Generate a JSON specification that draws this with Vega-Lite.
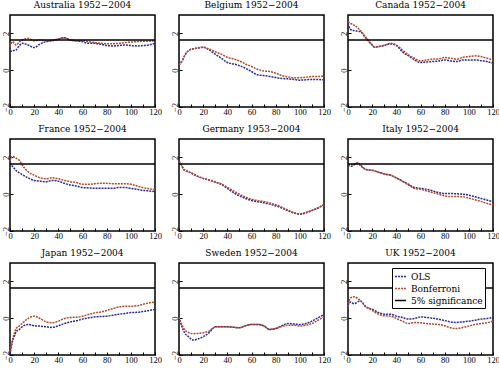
{
"$schema": "https://vega.github.io/schema/vega-lite/v6.json",
"padding": {"left": 0, "top": 0, "right": 1, "bottom": 1},
"config": {
  "font": "DejaVu Serif",
  "view": {"stroke": "black", "strokeWidth": 1.5},
  "axis": {"domain": false, "grid": false, "tickColor": "black", "tickSize": -3, "labelPadding": 3, "labelFont": "Liberation Serif", "labelFontSize": 8.5, "labelColor": "black", "title": null, "labelOverlap": false, "labelFlush": false, "minExtent": 0}
},
"data": {"values": [
{"c":"Australia 1952−2004","x":0,"OLS":1.0,"Bonferroni":1.28},{"c":"Australia 1952−2004","x":2,"OLS":1.05,"Bonferroni":1.55},{"c":"Australia 1952−2004","x":5,"OLS":1.1,"Bonferroni":1.37},{"c":"Australia 1952−2004","x":8,"OLS":1.35,"Bonferroni":1.55},{"c":"Australia 1952−2004","x":10,"OLS":1.46,"Bonferroni":1.64},{"c":"Australia 1952−2004","x":15,"OLS":1.37,"Bonferroni":1.73},{"c":"Australia 1952−2004","x":20,"OLS":1.23,"Bonferroni":1.6},{"c":"Australia 1952−2004","x":25,"OLS":1.43,"Bonferroni":1.64},{"c":"Australia 1952−2004","x":30,"OLS":1.55,"Bonferroni":1.6},{"c":"Australia 1952−2004","x":35,"OLS":1.6,"Bonferroni":1.64},{"c":"Australia 1952−2004","x":40,"OLS":1.68,"Bonferroni":1.7},{"c":"Australia 1952−2004","x":45,"OLS":1.77,"Bonferroni":1.75},{"c":"Australia 1952−2004","x":50,"OLS":1.64,"Bonferroni":1.64},{"c":"Australia 1952−2004","x":55,"OLS":1.6,"Bonferroni":1.6},{"c":"Australia 1952−2004","x":60,"OLS":1.55,"Bonferroni":1.6},{"c":"Australia 1952−2004","x":65,"OLS":1.46,"Bonferroni":1.55},{"c":"Australia 1952−2004","x":70,"OLS":1.46,"Bonferroni":1.5},{"c":"Australia 1952−2004","x":75,"OLS":1.41,"Bonferroni":1.46},{"c":"Australia 1952−2004","x":80,"OLS":1.34,"Bonferroni":1.44},{"c":"Australia 1952−2004","x":85,"OLS":1.32,"Bonferroni":1.44},{"c":"Australia 1952−2004","x":90,"OLS":1.34,"Bonferroni":1.46},{"c":"Australia 1952−2004","x":95,"OLS":1.37,"Bonferroni":1.5},{"c":"Australia 1952−2004","x":100,"OLS":1.34,"Bonferroni":1.53},{"c":"Australia 1952−2004","x":105,"OLS":1.32,"Bonferroni":1.55},{"c":"Australia 1952−2004","x":110,"OLS":1.34,"Bonferroni":1.57},{"c":"Australia 1952−2004","x":115,"OLS":1.37,"Bonferroni":1.58},{"c":"Australia 1952−2004","x":120,"OLS":1.46,"Bonferroni":1.6},
{"c":"Belgium 1952−2004","x":0,"OLS":0.29,"Bonferroni":0.29},{"c":"Belgium 1952−2004","x":3,"OLS":0.56,"Bonferroni":0.56},{"c":"Belgium 1952−2004","x":5,"OLS":0.83,"Bonferroni":0.83},{"c":"Belgium 1952−2004","x":10,"OLS":1.14,"Bonferroni":1.14},{"c":"Belgium 1952−2004","x":15,"OLS":1.19,"Bonferroni":1.19},{"c":"Belgium 1952−2004","x":20,"OLS":1.25,"Bonferroni":1.25},{"c":"Belgium 1952−2004","x":25,"OLS":1.1,"Bonferroni":1.14},{"c":"Belgium 1952−2004","x":30,"OLS":0.87,"Bonferroni":1.0},{"c":"Belgium 1952−2004","x":35,"OLS":0.65,"Bonferroni":0.87},{"c":"Belgium 1952−2004","x":40,"OLS":0.42,"Bonferroni":0.7},{"c":"Belgium 1952−2004","x":45,"OLS":0.34,"Bonferroni":0.61},{"c":"Belgium 1952−2004","x":50,"OLS":0.25,"Bonferroni":0.5},{"c":"Belgium 1952−2004","x":55,"OLS":0.11,"Bonferroni":0.34},{"c":"Belgium 1952−2004","x":60,"OLS":-0.07,"Bonferroni":0.2},{"c":"Belgium 1952−2004","x":65,"OLS":-0.25,"Bonferroni":0.05},{"c":"Belgium 1952−2004","x":70,"OLS":-0.29,"Bonferroni":-0.04},{"c":"Belgium 1952−2004","x":75,"OLS":-0.34,"Bonferroni":-0.07},{"c":"Belgium 1952−2004","x":80,"OLS":-0.4,"Bonferroni":-0.16},{"c":"Belgium 1952−2004","x":85,"OLS":-0.45,"Bonferroni":-0.29},{"c":"Belgium 1952−2004","x":90,"OLS":-0.47,"Bonferroni":-0.36},{"c":"Belgium 1952−2004","x":95,"OLS":-0.5,"Bonferroni":-0.41},{"c":"Belgium 1952−2004","x":100,"OLS":-0.54,"Bonferroni":-0.41},{"c":"Belgium 1952−2004","x":105,"OLS":-0.52,"Bonferroni":-0.38},{"c":"Belgium 1952−2004","x":110,"OLS":-0.5,"Bonferroni":-0.34},{"c":"Belgium 1952−2004","x":115,"OLS":-0.51,"Bonferroni":-0.34},{"c":"Belgium 1952−2004","x":120,"OLS":-0.52,"Bonferroni":-0.32},
{"c":"Canada 1952−2004","x":0,"OLS":2.55,"Bonferroni":2.64},{"c":"Canada 1952−2004","x":2,"OLS":2.22,"Bonferroni":2.55},{"c":"Canada 1952−2004","x":5,"OLS":2.15,"Bonferroni":2.45},{"c":"Canada 1952−2004","x":10,"OLS":2.1,"Bonferroni":2.18},{"c":"Canada 1952−2004","x":15,"OLS":1.73,"Bonferroni":1.77},{"c":"Canada 1952−2004","x":20,"OLS":1.37,"Bonferroni":1.37},{"c":"Canada 1952−2004","x":22,"OLS":1.25,"Bonferroni":1.25},{"c":"Canada 1952−2004","x":25,"OLS":1.28,"Bonferroni":1.28},{"c":"Canada 1952−2004","x":30,"OLS":1.34,"Bonferroni":1.36},{"c":"Canada 1952−2004","x":35,"OLS":1.43,"Bonferroni":1.46},{"c":"Canada 1952−2004","x":40,"OLS":1.34,"Bonferroni":1.37},{"c":"Canada 1952−2004","x":45,"OLS":1.0,"Bonferroni":1.1},{"c":"Canada 1952−2004","x":50,"OLS":0.79,"Bonferroni":0.83},{"c":"Canada 1952−2004","x":55,"OLS":0.56,"Bonferroni":0.65},{"c":"Canada 1952−2004","x":60,"OLS":0.42,"Bonferroni":0.5},{"c":"Canada 1952−2004","x":65,"OLS":0.45,"Bonferroni":0.56},{"c":"Canada 1952−2004","x":70,"OLS":0.47,"Bonferroni":0.6},{"c":"Canada 1952−2004","x":75,"OLS":0.5,"Bonferroni":0.61},{"c":"Canada 1952−2004","x":80,"OLS":0.56,"Bonferroni":0.69},{"c":"Canada 1952−2004","x":85,"OLS":0.5,"Bonferroni":0.65},{"c":"Canada 1952−2004","x":90,"OLS":0.47,"Bonferroni":0.6},{"c":"Canada 1952−2004","x":95,"OLS":0.56,"Bonferroni":0.7},{"c":"Canada 1952−2004","x":100,"OLS":0.56,"Bonferroni":0.74},{"c":"Canada 1952−2004","x":105,"OLS":0.56,"Bonferroni":0.78},{"c":"Canada 1952−2004","x":110,"OLS":0.52,"Bonferroni":0.74},{"c":"Canada 1952−2004","x":115,"OLS":0.47,"Bonferroni":0.65},{"c":"Canada 1952−2004","x":120,"OLS":0.38,"Bonferroni":0.56},
{"c":"France 1952−2004","x":0,"OLS":1.7,"Bonferroni":1.79},{"c":"France 1952−2004","x":2,"OLS":1.52,"Bonferroni":2.05},{"c":"France 1952−2004","x":5,"OLS":1.29,"Bonferroni":1.96},{"c":"France 1952−2004","x":8,"OLS":1.15,"Bonferroni":1.82},{"c":"France 1952−2004","x":10,"OLS":1.07,"Bonferroni":1.6},{"c":"France 1952−2004","x":15,"OLS":0.89,"Bonferroni":1.21},{"c":"France 1952−2004","x":20,"OLS":0.75,"Bonferroni":1.04},{"c":"France 1952−2004","x":25,"OLS":0.71,"Bonferroni":0.89},{"c":"France 1952−2004","x":30,"OLS":0.68,"Bonferroni":0.84},{"c":"France 1952−2004","x":35,"OLS":0.75,"Bonferroni":0.89},{"c":"France 1952−2004","x":40,"OLS":0.71,"Bonferroni":0.84},{"c":"France 1952−2004","x":45,"OLS":0.59,"Bonferroni":0.75},{"c":"France 1952−2004","x":50,"OLS":0.5,"Bonferroni":0.68},{"c":"France 1952−2004","x":55,"OLS":0.45,"Bonferroni":0.63},{"c":"France 1952−2004","x":60,"OLS":0.36,"Bonferroni":0.54},{"c":"France 1952−2004","x":65,"OLS":0.34,"Bonferroni":0.54},{"c":"France 1952−2004","x":70,"OLS":0.32,"Bonferroni":0.57},{"c":"France 1952−2004","x":75,"OLS":0.32,"Bonferroni":0.59},{"c":"France 1952−2004","x":80,"OLS":0.32,"Bonferroni":0.59},{"c":"France 1952−2004","x":85,"OLS":0.32,"Bonferroni":0.57},{"c":"France 1952−2004","x":90,"OLS":0.36,"Bonferroni":0.57},{"c":"France 1952−2004","x":95,"OLS":0.36,"Bonferroni":0.57},{"c":"France 1952−2004","x":100,"OLS":0.32,"Bonferroni":0.54},{"c":"France 1952−2004","x":105,"OLS":0.27,"Bonferroni":0.45},{"c":"France 1952−2004","x":110,"OLS":0.21,"Bonferroni":0.36},{"c":"France 1952−2004","x":115,"OLS":0.18,"Bonferroni":0.3},{"c":"France 1952−2004","x":120,"OLS":0.14,"Bonferroni":0.25},
{"c":"Germany 1953−2004","x":0,"OLS":1.79,"Bonferroni":1.79},{"c":"Germany 1953−2004","x":2,"OLS":1.6,"Bonferroni":1.6},{"c":"Germany 1953−2004","x":4,"OLS":1.34,"Bonferroni":1.34},{"c":"Germany 1953−2004","x":5,"OLS":1.3,"Bonferroni":1.3},{"c":"Germany 1953−2004","x":10,"OLS":1.16,"Bonferroni":1.16},{"c":"Germany 1953−2004","x":15,"OLS":0.98,"Bonferroni":0.98},{"c":"Germany 1953−2004","x":20,"OLS":0.86,"Bonferroni":0.86},{"c":"Germany 1953−2004","x":25,"OLS":0.77,"Bonferroni":0.77},{"c":"Germany 1953−2004","x":30,"OLS":0.66,"Bonferroni":0.66},{"c":"Germany 1953−2004","x":35,"OLS":0.54,"Bonferroni":0.56},{"c":"Germany 1953−2004","x":40,"OLS":0.32,"Bonferroni":0.37},{"c":"Germany 1953−2004","x":45,"OLS":0.09,"Bonferroni":0.18},{"c":"Germany 1953−2004","x":50,"OLS":-0.09,"Bonferroni":0.0},{"c":"Germany 1953−2004","x":55,"OLS":-0.23,"Bonferroni":-0.16},{"c":"Germany 1953−2004","x":60,"OLS":-0.34,"Bonferroni":-0.27},{"c":"Germany 1953−2004","x":65,"OLS":-0.41,"Bonferroni":-0.34},{"c":"Germany 1953−2004","x":70,"OLS":-0.46,"Bonferroni":-0.39},{"c":"Germany 1953−2004","x":75,"OLS":-0.54,"Bonferroni":-0.48},{"c":"Germany 1953−2004","x":80,"OLS":-0.63,"Bonferroni":-0.57},{"c":"Germany 1953−2004","x":85,"OLS":-0.75,"Bonferroni":-0.71},{"c":"Germany 1953−2004","x":90,"OLS":-0.89,"Bonferroni":-0.86},{"c":"Germany 1953−2004","x":95,"OLS":-1.02,"Bonferroni":-1.0},{"c":"Germany 1953−2004","x":100,"OLS":-1.09,"Bonferroni":-1.07},{"c":"Germany 1953−2004","x":105,"OLS":-1.02,"Bonferroni":-0.99},{"c":"Germany 1953−2004","x":110,"OLS":-0.89,"Bonferroni":-0.88},{"c":"Germany 1953−2004","x":115,"OLS":-0.75,"Bonferroni":-0.75},{"c":"Germany 1953−2004","x":120,"OLS":-0.57,"Bonferroni":-0.57},
{"c":"Italy 1952−2004","x":0,"OLS":1.6,"Bonferroni":1.6},{"c":"Italy 1952−2004","x":3,"OLS":1.52,"Bonferroni":1.6},{"c":"Italy 1952−2004","x":5,"OLS":1.6,"Bonferroni":1.64},{"c":"Italy 1952−2004","x":8,"OLS":1.7,"Bonferroni":1.7},{"c":"Italy 1952−2004","x":10,"OLS":1.6,"Bonferroni":1.57},{"c":"Italy 1952−2004","x":15,"OLS":1.34,"Bonferroni":1.34},{"c":"Italy 1952−2004","x":20,"OLS":1.3,"Bonferroni":1.3},{"c":"Italy 1952−2004","x":25,"OLS":1.2,"Bonferroni":1.2},{"c":"Italy 1952−2004","x":30,"OLS":1.1,"Bonferroni":1.1},{"c":"Italy 1952−2004","x":35,"OLS":1.04,"Bonferroni":1.04},{"c":"Italy 1952−2004","x":40,"OLS":0.89,"Bonferroni":0.89},{"c":"Italy 1952−2004","x":45,"OLS":0.71,"Bonferroni":0.71},{"c":"Italy 1952−2004","x":50,"OLS":0.54,"Bonferroni":0.5},{"c":"Italy 1952−2004","x":55,"OLS":0.36,"Bonferroni":0.32},{"c":"Italy 1952−2004","x":60,"OLS":0.32,"Bonferroni":0.27},{"c":"Italy 1952−2004","x":65,"OLS":0.27,"Bonferroni":0.18},{"c":"Italy 1952−2004","x":70,"OLS":0.18,"Bonferroni":0.09},{"c":"Italy 1952−2004","x":75,"OLS":0.09,"Bonferroni":0.0},{"c":"Italy 1952−2004","x":80,"OLS":0.04,"Bonferroni":-0.09},{"c":"Italy 1952−2004","x":85,"OLS":0.04,"Bonferroni":-0.13},{"c":"Italy 1952−2004","x":90,"OLS":0.02,"Bonferroni":-0.13},{"c":"Italy 1952−2004","x":95,"OLS":0.0,"Bonferroni":-0.14},{"c":"Italy 1952−2004","x":100,"OLS":-0.05,"Bonferroni":-0.21},{"c":"Italy 1952−2004","x":105,"OLS":-0.14,"Bonferroni":-0.3},{"c":"Italy 1952−2004","x":110,"OLS":-0.23,"Bonferroni":-0.39},{"c":"Italy 1952−2004","x":115,"OLS":-0.32,"Bonferroni":-0.5},{"c":"Italy 1952−2004","x":120,"OLS":-0.41,"Bonferroni":-0.59},
{"c":"Japan 1952−2004","x":0,"OLS":-1.97,"Bonferroni":-1.82},{"c":"Japan 1952−2004","x":2,"OLS":-1.28,"Bonferroni":-1.19},{"c":"Japan 1952−2004","x":4,"OLS":-0.92,"Bonferroni":-0.74},{"c":"Japan 1952−2004","x":5,"OLS":-0.74,"Bonferroni":-0.56},{"c":"Japan 1952−2004","x":8,"OLS":-0.6,"Bonferroni":-0.41},{"c":"Japan 1952−2004","x":10,"OLS":-0.47,"Bonferroni":-0.29},{"c":"Japan 1952−2004","x":15,"OLS":-0.34,"Bonferroni":-0.02},{"c":"Japan 1952−2004","x":20,"OLS":-0.41,"Bonferroni":0.11},{"c":"Japan 1952−2004","x":25,"OLS":-0.43,"Bonferroni":-0.02},{"c":"Japan 1952−2004","x":30,"OLS":-0.47,"Bonferroni":-0.2},{"c":"Japan 1952−2004","x":35,"OLS":-0.5,"Bonferroni":-0.25},{"c":"Japan 1952−2004","x":40,"OLS":-0.41,"Bonferroni":-0.16},{"c":"Japan 1952−2004","x":45,"OLS":-0.29,"Bonferroni":-0.02},{"c":"Japan 1952−2004","x":50,"OLS":-0.2,"Bonferroni":0.04},{"c":"Japan 1952−2004","x":55,"OLS":-0.14,"Bonferroni":0.05},{"c":"Japan 1952−2004","x":60,"OLS":-0.05,"Bonferroni":0.11},{"c":"Japan 1952−2004","x":65,"OLS":0.02,"Bonferroni":0.2},{"c":"Japan 1952−2004","x":70,"OLS":0.07,"Bonferroni":0.29},{"c":"Japan 1952−2004","x":75,"OLS":0.09,"Bonferroni":0.34},{"c":"Japan 1952−2004","x":80,"OLS":0.11,"Bonferroni":0.42},{"c":"Japan 1952−2004","x":85,"OLS":0.16,"Bonferroni":0.52},{"c":"Japan 1952−2004","x":90,"OLS":0.22,"Bonferroni":0.61},{"c":"Japan 1952−2004","x":95,"OLS":0.25,"Bonferroni":0.65},{"c":"Japan 1952−2004","x":100,"OLS":0.31,"Bonferroni":0.65},{"c":"Japan 1952−2004","x":105,"OLS":0.32,"Bonferroni":0.67},{"c":"Japan 1952−2004","x":110,"OLS":0.36,"Bonferroni":0.76},{"c":"Japan 1952−2004","x":115,"OLS":0.42,"Bonferroni":0.83},{"c":"Japan 1952−2004","x":120,"OLS":0.47,"Bonferroni":0.88},
{"c":"Sweden 1952−2004","x":0,"OLS":0.07,"Bonferroni":0.07},{"c":"Sweden 1952−2004","x":2,"OLS":-0.38,"Bonferroni":-0.29},{"c":"Sweden 1952−2004","x":5,"OLS":-0.83,"Bonferroni":-0.65},{"c":"Sweden 1952−2004","x":8,"OLS":-1.01,"Bonferroni":-0.78},{"c":"Sweden 1952−2004","x":10,"OLS":-1.14,"Bonferroni":-0.83},{"c":"Sweden 1952−2004","x":12,"OLS":-1.19,"Bonferroni":-0.84},{"c":"Sweden 1952−2004","x":15,"OLS":-1.14,"Bonferroni":-0.83},{"c":"Sweden 1952−2004","x":20,"OLS":-1.01,"Bonferroni":-0.79},{"c":"Sweden 1952−2004","x":25,"OLS":-0.78,"Bonferroni":-0.7},{"c":"Sweden 1952−2004","x":30,"OLS":-0.47,"Bonferroni":-0.47},{"c":"Sweden 1952−2004","x":35,"OLS":-0.47,"Bonferroni":-0.47},{"c":"Sweden 1952−2004","x":40,"OLS":-0.47,"Bonferroni":-0.47},{"c":"Sweden 1952−2004","x":45,"OLS":-0.49,"Bonferroni":-0.49},{"c":"Sweden 1952−2004","x":50,"OLS":-0.52,"Bonferroni":-0.52},{"c":"Sweden 1952−2004","x":55,"OLS":-0.41,"Bonferroni":-0.41},{"c":"Sweden 1952−2004","x":60,"OLS":-0.34,"Bonferroni":-0.34},{"c":"Sweden 1952−2004","x":65,"OLS":-0.34,"Bonferroni":-0.34},{"c":"Sweden 1952−2004","x":70,"OLS":-0.41,"Bonferroni":-0.41},{"c":"Sweden 1952−2004","x":75,"OLS":-0.61,"Bonferroni":-0.61},{"c":"Sweden 1952−2004","x":80,"OLS":-0.56,"Bonferroni":-0.56},{"c":"Sweden 1952−2004","x":85,"OLS":-0.41,"Bonferroni":-0.45},{"c":"Sweden 1952−2004","x":90,"OLS":-0.29,"Bonferroni":-0.38},{"c":"Sweden 1952−2004","x":95,"OLS":-0.31,"Bonferroni":-0.38},{"c":"Sweden 1952−2004","x":100,"OLS":-0.34,"Bonferroni":-0.43},{"c":"Sweden 1952−2004","x":105,"OLS":-0.29,"Bonferroni":-0.38},{"c":"Sweden 1952−2004","x":110,"OLS":-0.16,"Bonferroni":-0.29},{"c":"Sweden 1952−2004","x":115,"OLS":0.02,"Bonferroni":-0.11},{"c":"Sweden 1952−2004","x":120,"OLS":0.2,"Bonferroni":0.07},
{"c":"UK 1952−2004","x":0,"OLS":0.7,"Bonferroni":0.61},{"c":"UK 1952−2004","x":2,"OLS":0.88,"Bonferroni":1.1},{"c":"UK 1952−2004","x":5,"OLS":0.79,"Bonferroni":1.16},{"c":"UK 1952−2004","x":10,"OLS":0.94,"Bonferroni":0.97},{"c":"UK 1952−2004","x":15,"OLS":0.61,"Bonferroni":0.61},{"c":"UK 1952−2004","x":20,"OLS":0.49,"Bonferroni":0.43},{"c":"UK 1952−2004","x":25,"OLS":0.31,"Bonferroni":0.22},{"c":"UK 1952−2004","x":30,"OLS":0.22,"Bonferroni":0.13},{"c":"UK 1952−2004","x":35,"OLS":0.22,"Bonferroni":0.11},{"c":"UK 1952−2004","x":40,"OLS":0.11,"Bonferroni":-0.02},{"c":"UK 1952−2004","x":45,"OLS":0.04,"Bonferroni":-0.16},{"c":"UK 1952−2004","x":50,"OLS":-0.05,"Bonferroni":-0.29},{"c":"UK 1952−2004","x":55,"OLS":-0.02,"Bonferroni":-0.23},{"c":"UK 1952−2004","x":60,"OLS":0.07,"Bonferroni":-0.25},{"c":"UK 1952−2004","x":65,"OLS":0.04,"Bonferroni":-0.29},{"c":"UK 1952−2004","x":70,"OLS":0.0,"Bonferroni":-0.32},{"c":"UK 1952−2004","x":75,"OLS":-0.05,"Bonferroni":-0.34},{"c":"UK 1952−2004","x":80,"OLS":-0.13,"Bonferroni":-0.41},{"c":"UK 1952−2004","x":85,"OLS":-0.2,"Bonferroni":-0.52},{"c":"UK 1952−2004","x":90,"OLS":-0.23,"Bonferroni":-0.56},{"c":"UK 1952−2004","x":95,"OLS":-0.2,"Bonferroni":-0.5},{"c":"UK 1952−2004","x":100,"OLS":-0.16,"Bonferroni":-0.43},{"c":"UK 1952−2004","x":105,"OLS":-0.11,"Bonferroni":-0.34},{"c":"UK 1952−2004","x":110,"OLS":-0.05,"Bonferroni":-0.29},{"c":"UK 1952−2004","x":115,"OLS":-0.02,"Bonferroni":-0.25},{"c":"UK 1952−2004","x":120,"OLS":0.05,"Bonferroni":-0.16}
]},
"transform": [{"fold": ["OLS", "Bonferroni"], "as": ["series", "t"]}],
"facet": {"field": "c", "type": "nominal",
  "sort": ["Australia 1952−2004","Belgium 1952−2004","Canada 1952−2004","France 1952−2004","Germany 1953−2004","Italy 1952−2004","Japan 1952−2004","Sweden 1952−2004","UK 1952−2004"],
  "header": {"title": null, "labelFont": "DejaVu Serif", "labelFontSize": 9, "labelPadding": 5, "labelColor": "black"}},
"columns": 3,
"spacing": {"row": 7, "column": 6},
"resolve": {"axis": {"x": "independent", "y": "independent"}},
"spec": {
  "width": 145, "height": 92,
  "layer": [
    {"mark": {"type": "line", "strokeWidth": 1.5, "interpolate": "monotone"},
     "encoding": {
       "x": {"field": "x", "type": "quantitative", "scale": {"domain": [0, 120], "nice": false}, "axis": {"values": [0, 10, 20, 30, 40, 50, 60, 70, 80, 90, 100, 110, 120], "labelExpr": "datum.value % 20 == 0 ? datum.label : ''"}},
       "y": {"field": "t", "type": "quantitative", "scale": {"domain": [-2, 3], "nice": false}, "axis": {"values": [-2, -1, 0, 1, 2, 3], "labelAngle": -90, "labelAlign": "center", "labelBaseline": "bottom"}},
       "color": {"field": "series", "type": "nominal",
         "scale": {"domain": ["OLS", "Bonferroni", "5% significance"], "range": ["#2a2a96", "#b04a2a", "black"]},
         "legend": {"orient": "none", "legendX": 382, "legendY": 253, "title": null, "fillColor": "white", "strokeColor": "black", "padding": 2, "symbolType": "stroke", "symbolSize": 120, "symbolStrokeWidth": 1.5, "labelFont": "DejaVu Serif", "labelFontSize": 9, "labelColor": "black", "rowPadding": 0, "cornerRadius": 0}},
       "strokeDash": {"field": "series", "type": "nominal",
         "scale": {"domain": ["OLS", "Bonferroni", "5% significance"], "range": [[2, 1], [2, 1], [1, 0]]},
         "legend": {"orient": "none", "legendX": 382, "legendY": 253, "title": null}}
     }},
    {"transform": [{"filter": "datum.x == 0 && datum.series == 'OLS'"}],
     "mark": {"type": "rule", "strokeWidth": 1.5},
     "encoding": {
       "y": {"datum": 1.645},
       "color": {"datum": "5% significance"},
       "strokeDash": {"datum": "5% significance"}
     }}
  ]
}
}
